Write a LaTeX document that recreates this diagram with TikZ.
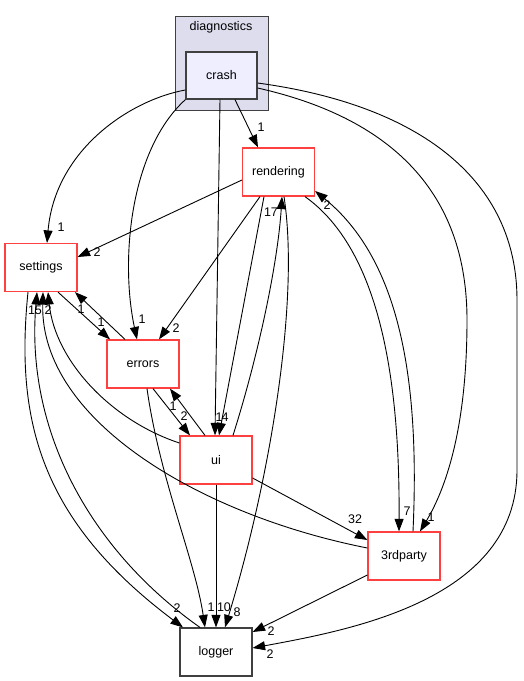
\documentclass[tikz,border=0pt]{standalone}
\usepackage{fontspec}
\setmainfont{Liberation Sans}
\usepackage{tikz}
\usetikzlibrary{shapes.geometric, arrows.meta, positioning}
\definecolor{dirred}{RGB}{255,64,64}
\definecolor{dirgray}{RGB}{64,64,64}
\definecolor{clusterfill}{RGB}{221,221,238}
\definecolor{crashfill}{RGB}{238,238,255}
\tikzstyle{dir} = [rectangle, minimum width=72pt, minimum height=48pt, inner sep=0pt, text centered, draw=dirred, line width=1.2pt, fill=white, font=\fontsize{12.5}{14}\selectfont]
\tikzstyle{leaf} = [dir, draw=dirgray]
\tikzstyle{current} = [dir, draw=dirgray, fill=crashfill, minimum width=71pt, minimum height=47pt]
\tikzstyle{cluster} = [rectangle, draw=dirgray, fill=clusterfill, line width=1.2pt, minimum width=93pt, minimum height=94pt, anchor=north west]
\tikzstyle{arrow} = [line width=0.9pt, -{Triangle[length=12.5pt,width=9pt]}]
\tikzstyle{lbl} = [inner sep=0pt, font=\fontsize{12.5}{14}\selectfont]
\begin{document}
\begin{tikzpicture}[x=1pt, y=-1pt]
\useasboundingbox (0,0) rectangle (523,681);
\node (diagnostics) [cluster] at (175,16) {};
\node (diagtitle) [font=\fontsize{12.5}{14}\selectfont] at (221,27) {diagnostics};
\node (crash) [current] at (221.5,75.5) {crash};
\node (rendering) [dir] at (278.5,172) {rendering};
\node (settings) [dir] at (41,267.5) {settings};
\node (errors) [dir] at (143,364) {errors};
\node (ui) [dir] at (216,460) {ui};
\node (third) [dir] at (404,556) {3rdparty};
\node (logger) [leaf] at (216,652) {logger};
% crash
\draw [arrow] ([xshift=13.5pt]crash.south) -- ([xshift=-20.5pt]rendering.north) node [lbl] at (261,127) {1};
\draw [arrow] ([yshift=-14.5pt]crash.west) .. controls (130,100) and (55,150) .. ([xshift=6pt]settings.north) node [lbl] at (61,227) {1};
\draw [arrow] (crash.south west) .. controls (130,150) and (120,260) .. ([xshift=-6pt]errors.north) node [lbl] at (142,319) {1};
\draw [arrow] ([xshift=-1.5pt]crash.south) -- ([xshift=-1pt]ui.north) node [lbl] at (219,417) {1};
\draw [arrow] ([yshift=-12.5pt]crash.east) .. controls (400,120) and (467,200) .. (467,320) .. controls (467,430) and (445,490) .. ([xshift=16pt]third.north) node [lbl] at (431,517) {1};
\draw [arrow] ([yshift=-7.5pt]crash.east) .. controls (420,105) and (517,180) .. (517,300) -- (517,470) .. controls (517,600) and (350,630) .. ([yshift=4pt]logger.east) node [lbl] at (270,654) {2};
% rendering
\draw [arrow] ([yshift=-8pt]rendering.west) -- ([yshift=10.5pt]settings.east) node [lbl] at (97,252) {2};
\draw [arrow] ([xshift=-18.5pt]rendering.south) -- ([xshift=16pt]errors.north) node [lbl] at (176,328) {2};
\draw [arrow] ([xshift=-14.5pt]rendering.south) -- ([xshift=3pt]ui.north) node [lbl] at (225,417) {4};
\draw [arrow] ([xshift=26.5pt]rendering.south) .. controls (380,250) and (400,380) .. ([xshift=-5pt]third.north) node [lbl] at (407,511) {7};
\draw [arrow] ([xshift=5.5pt]rendering.south) .. controls (300,300) and (270,480) .. ([xshift=9pt]logger.north) node [lbl] at (237,612) {8};
% settings / errors
\draw [arrow] ([xshift=17pt]settings.south) -- ([xshift=-33pt]errors.north) node [lbl] at (101,322) {1};
\draw [arrow] ([xshift=-18pt]errors.north) -- ([xshift=34pt]settings.south) node [lbl] at (81,309) {1};
\draw [arrow] ([xshift=-13pt]settings.south) .. controls (15,420) and (40,520) .. ([xshift=-33pt]logger.north) node [lbl] at (177,608) {2};
\draw [arrow] ([xshift=10pt]errors.south) -- ([xshift=-26pt]ui.north) node [lbl] at (184,416) {2};
\draw [arrow] ([xshift=4pt]errors.south) .. controls (160,480) and (195,560) .. ([xshift=-11pt]logger.north) node [lbl] at (211,607) {1};
% ui
\draw [arrow] ([xshift=17pt]ui.north) .. controls (260,350) and (278,260) .. ([xshift=3.5pt]rendering.south) node [lbl] at (271,212) {17};
\draw [arrow] ([yshift=17pt]ui.west) .. controls (110,420) and (55,360) .. ([xshift=7pt]settings.south) node [lbl] at (48,310) {2};
\draw [arrow] ([xshift=-11pt]ui.north) -- ([xshift=27pt]errors.south) node [lbl] at (173,406) {1};
\draw [arrow] (ui.south) -- (logger.north) node [lbl] at (224,607) {10};
\draw [arrow] ([yshift=-18pt]ui.east) -- ([yshift=16pt]third.west) node [lbl] at (355,519) {32};
% 3rdparty / logger
\draw [arrow] ([xshift=9pt]third.north) .. controls (420,380) and (400,260) .. ([yshift=-19pt]rendering.east) node [lbl] at (327,205) {2};
\draw [arrow] ([yshift=8pt]third.west) .. controls (200,515) and (40,420) .. ([xshift=2pt]settings.south);
\draw [arrow] ([yshift=-19pt]third.west) -- ([yshift=20pt]logger.east) node [lbl] at (271,631) {2};
\draw [arrow] ([xshift=-16pt]logger.north) .. controls (90,550) and (25,430) .. ([xshift=-4pt]settings.south) node [lbl] at (35,310) {15};
\end{tikzpicture}
\end{document}
